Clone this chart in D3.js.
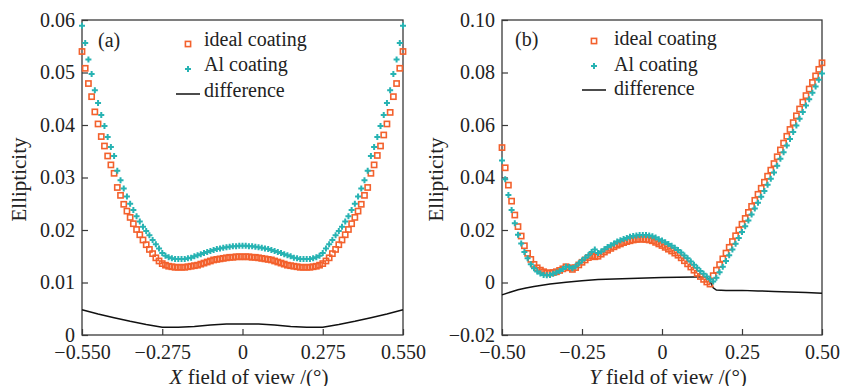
<!DOCTYPE html>
<html>
<head>
<meta charset="utf-8">
<script src="https://cdn.jsdelivr.net/npm/d3@7"></script>
<style>
   body { margin: 0; background: white; }
   svg { display: block; font-family: "Liberation Serif", "Times New Roman", serif; }
</style>
</head>
<body>
<svg id="chart" width="842" height="386"></svg>
<script>
// ---- data ----
// (a) X field of view, 101 samples from -0.55 to 0.55
const xStartA = -0.55, xStepA = 0.011;
const idealA = [
   0.0540,0.0508,0.0479,0.0454,0.0425,0.0402,0.0378,0.0360,0.0341,0.0324,0.0308,0.0281,0.0266,0.0249,0.0236,0.0224,0.0212,0.0201,0.0191,0.0181,0.0172,0.0163,0.0155,0.0147,0.0141,
   0.0136,0.0133,0.0131,0.0130,0.0129,0.0129,0.0129,0.0129,0.0130,0.0131,0.0132,0.0133,0.0135,0.0137,0.0139,0.0141,0.0143,0.0144,0.0145,0.0146,0.0147,0.0148,0.0148,0.0149,0.0149,0.0149,
   0.0149,0.0149,0.0148,0.0148,0.0147,0.0146,0.0145,0.0144,0.0143,0.0141,0.0139,0.0137,0.0135,0.0133,0.0132,0.0131,0.0130,0.0129,0.0129,0.0129,0.0129,0.0130,0.0131,0.0133,0.0136,
   0.0141,0.0147,0.0155,0.0163,0.0172,0.0181,0.0191,0.0201,0.0212,0.0224,0.0236,0.0249,0.0266,0.0281,0.0308,0.0324,0.0342,0.0360,0.0381,0.0402,0.0424,0.0454,0.0479,0.0508,0.0540
];
const alA = [
   0.0589,0.0556,0.0525,0.0497,0.0466,0.0442,0.0419,0.0398,0.0377,0.0358,0.0341,0.0313,0.0295,0.0279,0.0264,0.0250,0.0238,0.0226,0.0216,0.0206,0.0198,0.0190,0.0181,0.0173,0.0165,
   0.0156,0.0151,0.0148,0.0146,0.0145,0.0145,0.0145,0.0145,0.0146,0.0147,0.0150,0.0152,0.0154,0.0156,0.0158,0.0160,0.0162,0.0164,0.0165,0.0166,0.0167,0.0168,0.0169,0.0169,0.0170,0.0170,
   0.0170,0.0169,0.0169,0.0168,0.0167,0.0166,0.0165,0.0164,0.0162,0.0160,0.0158,0.0156,0.0154,0.0152,0.0150,0.0147,0.0146,0.0145,0.0145,0.0145,0.0145,0.0146,0.0148,0.0151,0.0156,
   0.0165,0.0173,0.0181,0.0190,0.0198,0.0206,0.0216,0.0226,0.0238,0.0250,0.0264,0.0279,0.0295,0.0313,0.0341,0.0358,0.0377,0.0398,0.0419,0.0442,0.0466,0.0497,0.0525,0.0556,0.0589
];
const diffXA = [-0.55,-0.495,-0.44,-0.385,-0.33,-0.275,-0.22,-0.165,-0.11,-0.055,0,0.055,0.11,0.165,0.22,0.275,0.33,0.385,0.44,0.495,0.55];
const diffA = [0.0048,0.0040,0.0033,0.0026,0.0020,0.0015,0.0015,0.0016,0.0019,0.0021,0.0021,0.0021,0.0019,0.0016,0.0015,0.0015,0.0020,0.0026,0.0033,0.0040,0.0048];

// (b) Y field of view, 101 samples from -0.50 to 0.50
const xStartB = -0.5, xStepB = 0.01;
const idealB = [
   0.0514,0.0437,0.0371,0.0310,0.0257,0.0213,0.0177,0.0140,0.0111,0.0088,0.0069,0.0056,0.0047,0.0041,0.0037,0.0036,0.0038,0.0041,0.0046,0.0052,
   0.0060,0.0056,0.0050,0.0057,0.0067,0.0077,0.0086,0.0095,0.0102,0.0098,0.0100,0.0108,0.0116,0.0123,0.0130,0.0136,0.0142,0.0147,0.0152,0.0156,
   0.0159,0.0162,0.0164,0.0165,0.0165,0.0164,0.0162,0.0159,0.0153,0.0147,0.0141,0.0134,0.0127,0.0120,0.0112,0.0104,0.0094,0.0083,0.0071,0.0059,
   0.0047,0.0035,0.0023,0.0012,0.0002,-0.0006,
   0.0026,0.0047,0.0068,0.0090,0.0112,0.0134,0.0156,0.0178,0.0200,0.0222,0.0244,0.0267,0.0290,0.0313,0.0336,0.0359,0.0382,0.0405,0.0428,
   0.0453,0.0479,0.0505,0.0531,0.0557,0.0583,0.0609,0.0635,0.0661,0.0687,0.0712,0.0737,0.0762,0.0787,0.0812,0.0837
];
const alB = [
   0.0465,0.0393,0.0333,0.0276,0.0226,0.0182,0.0149,0.0116,0.0092,0.0070,0.0054,0.0042,0.0034,0.0029,0.0028,0.0029,0.0033,0.0038,0.0044,0.0051,
   0.0060,0.0059,0.0054,0.0062,0.0073,0.0084,0.0094,0.0104,0.0116,0.0126,0.0112,0.0118,0.0127,0.0135,0.0142,0.0149,0.0156,0.0161,0.0166,0.0170,
   0.0174,0.0177,0.0179,0.0181,0.0181,0.0181,0.0179,0.0176,0.0171,0.0165,0.0160,0.0153,0.0147,0.0140,0.0132,0.0124,0.0114,0.0103,0.0092,0.0080,
   0.0068,0.0056,0.0044,0.0033,0.0023,0.0012,
   0.0004,0.0018,0.0039,0.0060,0.0082,0.0104,0.0126,0.0148,0.0170,0.0192,0.0214,0.0236,0.0259,0.0282,0.0304,0.0327,0.0349,0.0372,0.0395,
   0.0419,0.0445,0.0471,0.0496,0.0522,0.0547,0.0573,0.0598,0.0624,0.0650,0.0674,0.0698,0.0723,0.0747,0.0772,0.0796
];
const diffXB = [-0.5,-0.475,-0.45,-0.425,-0.4,-0.35,-0.3,-0.25,-0.2,-0.15,-0.1,-0.05,0,0.05,0.1,0.13,0.14,0.15,0.16,0.17,0.2,0.25,0.3,0.35,0.4,0.45,0.5];
const diffB = [-0.0047,-0.0037,-0.0028,-0.0021,-0.0015,-0.0006,0.0001,0.0007,0.0011,0.0013,0.0015,0.0017,0.0019,0.0020,0.0021,0.0022,0.0022,0.0005,-0.0020,-0.0029,-0.0030,-0.0030,-0.0032,-0.0034,-0.0036,-0.0038,-0.0041];

// ticks
const xTicksA = [-0.55, -0.275, 0, 0.275, 0.55];
const xTickLabelsA = ['\u22120.550', '\u22120.275', '0', '0.275', '0.550'];
const yTicksA = [0, 0.01, 0.02, 0.03, 0.04, 0.05, 0.06];
const yTickLabelsA = ['0', '0.01', '0.02', '0.03', '0.04', '0.05', '0.06'];
const xTicksB = [-0.5, -0.25, 0, 0.25, 0.5];
const xTickLabelsB = ['\u22120.50', '\u22120.25', '0', '0.25', '0.50'];
const yTicksB = [-0.02, 0, 0.02, 0.04, 0.06, 0.08, 0.10];
const yTickLabelsB = ['\u22120.02', '0', '0.02', '0.04', '0.06', '0.08', '0.10'];

const legendLabels = ['ideal coating', 'Al coating', 'difference'];

// ---- drawing ----
const colors = { ideal: '#f3612d', al: '#27b3b3', diff: '#111', frame: '#3a3a3a', text: '#222' };
const svg = d3.select('#chart');

function panel(o) {
   let x = d3.scaleLinear().domain(o.xDomain).range([o.left, o.right]);
   let y = d3.scaleLinear().domain(o.yDomain).range([o.bottom, o.top]);
   let g = svg.append('g');

   let pts = (vals) => vals.map((v, i) => ({ x: o.xStart + i * o.xStep, y: v }));

   // axes with inward ticks
   let yAxis = d3.axisLeft(y)
      .tickValues(o.yTicks)
      .tickFormat((d, i) => o.yTickLabels[i])
      .tickSizeInner(-6).tickSizeOuter(0).tickPadding(7);
   let xAxis = d3.axisBottom(x)
      .tickValues(o.xTicks)
      .tickFormat((d, i) => o.xTickLabels[i])
      .tickSizeInner(-6).tickSizeOuter(0).tickPadding(10);

   [g.append('g').attr('transform', `translate(${o.left},0)`).call(yAxis),
    g.append('g').attr('transform', `translate(0,${o.bottom})`).call(xAxis)]
      .forEach(a => {
         a.select('.domain').remove();
         a.selectAll('line').attr('stroke', colors.frame).attr('stroke-width', 1.2);
         a.selectAll('text')
            .attr('fill', colors.text)
            .style('font-family', '"Liberation Serif", serif')
            .style('font-size', '20px');
      });

   g.append('rect')
      .attr('x', o.left).attr('y', o.top)
      .attr('width', o.right - o.left).attr('height', o.bottom - o.top)
      .attr('fill', 'none').attr('stroke', colors.frame).attr('stroke-width', 1.3);

   // difference line
   let line = d3.line().x(d => x(d[0])).y(d => y(d[1]));
   g.append('path')
      .datum(o.diffX.map((v, i) => [v, o.diff[i]]))
      .attr('d', line)
      .attr('fill', 'none').attr('stroke', colors.diff).attr('stroke-width', 1.5);

   // ideal coating: hollow squares
   g.append('g').selectAll('rect')
      .data(pts(o.ideal)).enter()
      .append('rect')
      .attr('x', d => x(d.x) - 2.6).attr('y', d => y(d.y) - 2.6)
      .attr('width', 5.2).attr('height', 5.2)
      .attr('fill', 'none').attr('stroke', colors.ideal).attr('stroke-width', 1.6);

   // Al coating: small plus markers
   let cross = d3.symbol().type(d3.symbolCross).size(20);
   g.append('g').selectAll('path')
      .data(pts(o.al)).enter()
      .append('path')
      .attr('d', cross)
      .attr('transform', d => `translate(${x(d.x)},${y(d.y)})`)
      .attr('fill', colors.al);

   // legend
   let lg = g.append('g').style('font-size', '20px').attr('fill', colors.text);
   lg.append('text').attr('x', o.tagX).attr('y', o.legY[0] + 1).text(o.tag);
   lg.append('rect')
      .attr('x', o.legMarkX - 2.6).attr('y', o.legMarkY[0] - 2.6)
      .attr('width', 5.2).attr('height', 5.2)
      .attr('fill', 'none').attr('stroke', colors.ideal).attr('stroke-width', 1.6);
   lg.append('path').attr('d', cross)
      .attr('transform', `translate(${o.legMarkX},${o.legMarkY[1]})`)
      .attr('fill', colors.al);
   lg.append('line')
      .attr('x1', o.legMarkX - 12).attr('x2', o.legMarkX + 12)
      .attr('y1', o.legMarkY[2]).attr('y2', o.legMarkY[2])
      .attr('stroke', colors.diff).attr('stroke-width', 1.5);
   legendLabels.forEach((t, i) => {
      lg.append('text').attr('x', o.legTextX).attr('y', o.legY[i]).text(t);
   });

   // axis titles
   g.append('text')
      .attr('transform', `translate(${o.yTitleX},${(o.top + o.bottom) / 2 + 2}) rotate(-90)`)
      .attr('text-anchor', 'middle')
      .style('font-size', '21px').attr('fill', colors.text)
      .text('Ellipticity');
   let xt = g.append('text')
      .attr('x', o.xTitleX).attr('y', 384)
      .attr('text-anchor', 'middle')
      .style('font-size', '21px').attr('fill', colors.text);
   xt.append('tspan').style('font-style', 'italic').text(o.axisLetter);
   xt.append('tspan').text(' field of view /(\u00b0)');
}

panel({
   left: 82, right: 403, top: 20, bottom: 335,
   xDomain: [-0.55, 0.55], yDomain: [0, 0.06],
   xStart: xStartA, xStep: xStepA,
   ideal: idealA, al: alA, diffX: diffXA, diff: diffA,
   xTicks: xTicksA, xTickLabels: xTickLabelsA, yTicks: yTicksA, yTickLabels: yTickLabelsA,
   tag: '(a)', tagX: 98, legMarkX: 188, legMarkY: [44, 69, 94], legTextX: 204, legY: [46, 71, 97],
   yTitleX: 26, xTitleX: 249, axisLetter: 'X'
});

panel({
   left: 502, right: 822, top: 20, bottom: 335,
   xDomain: [-0.5, 0.5], yDomain: [-0.02, 0.10],
   xStart: xStartB, xStep: xStepB,
   ideal: idealB, al: alB, diffX: diffXB, diff: diffB,
   xTicks: xTicksB, xTickLabels: xTickLabelsB, yTicks: yTicksB, yTickLabels: yTickLabelsB,
   tag: '(b)', tagX: 515, legMarkX: 594, legMarkY: [41, 66, 90], legTextX: 614, legY: [45, 71, 95],
   yTitleX: 443, xTitleX: 668, axisLetter: 'Y'
});
</script>
</body>
</html>
